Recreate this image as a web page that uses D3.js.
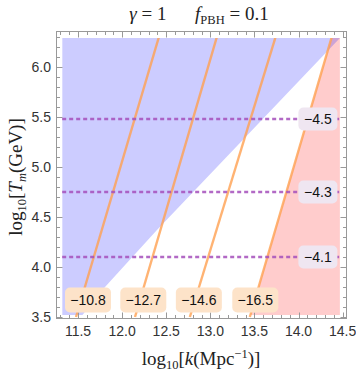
<!DOCTYPE html>
<html><head><meta charset="utf-8">
<script src="https://cdn.jsdelivr.net/npm/d3@7"></script>
<style>body{margin:0;background:#fff}svg{display:block}</style>
</head><body><svg id="c" width="356" height="375"></svg>
<script>
// ---- data ----
const kFrame = [11.25, 14.55];
const TFrame = [3.48, 6.36];
const kExtent = [11.32, 14.47];
const TExtent = [3.52, 6.29];
const kTicks = [11.5, 12.0, 12.5, 13.0, 13.5, 14.0, 14.5];
const TTicks = [3.5, 4.0, 4.5, 5.0, 5.5, 6.0];
const blueEdgeK = [14.47, 13.584, 12.395, 11.806, 11.55];
const blueEdgeT = [6.29, 5.47, 4.37, 3.80, 3.52];
const contourLabels = ["\u221210.8", "\u221212.7", "\u221214.6", "\u221216.5"];
const contourKBottom = [11.477, 12.146, 12.768, 13.448];
const contourKTop = [12.417, 13.074, 13.74, 14.377];
const contourT = [3.5, 6.3];
const dashedT = [5.48, 4.75, 4.10];
const dashedLabels = ["\u22124.5", "\u22124.3", "\u22124.1"];
const bottomLabelK = [11.613, 12.24, 12.87, 13.51];
const bottomLabelT = 3.67;
const rightLabelK = 14.22;

// ---- layout ----
const svg = d3.select("#c");
const x = d3.scaleLinear().domain(kFrame).range([56, 347]);
const y = d3.scaleLinear().domain(TFrame).range([319, 31]);
const sans = "Liberation Sans, Arial, sans-serif";
const serif = "Liberation Serif, Times New Roman, serif";

const defs = svg.append("defs");
defs.append("clipPath").attr("id", "clip").append("rect")
  .attr("x", x(kExtent[0])).attr("y", y(TExtent[1]))
  .attr("width", x(kExtent[1]) - x(kExtent[0])).attr("height", y(TExtent[0]) - y(TExtent[1]));
defs.append("clipPath").attr("id", "clip2").append("rect")
  .attr("x", x(kExtent[0])).attr("y", y(TExtent[1]))
  .attr("width", x(kExtent[1]) - x(kExtent[0])).attr("height", y(3.5) - y(TExtent[1]) + 1);

const line = d3.line().x(d => x(d[0])).y(d => y(d[1]));
const plot = svg.append("g").attr("clip-path", "url(#clip)");

// red region: right of last contour
const lastI = contourKBottom.length - 1;
const edgeAt = T => contourKBottom[lastI] + (contourKTop[lastI] - contourKBottom[lastI]) * (T - contourT[0]) / (contourT[1] - contourT[0]);
const redPoly = [[edgeAt(TExtent[1]), TExtent[1]], [kExtent[1], TExtent[1]], [kExtent[1], TExtent[0]], [edgeAt(TExtent[0]), TExtent[0]]];
plot.append("path").attr("d", line(redPoly) + "Z").attr("fill", "rgb(255,0,0)").attr("fill-opacity", 0.2);

// blue region
const bluePoly = [[kExtent[0], TExtent[1]]].concat(blueEdgeK.map((k, i) => [k, blueEdgeT[i]])).concat([[kExtent[0], TExtent[0]]]);
plot.append("path").attr("d", line(bluePoly) + "Z").attr("fill", "rgb(0,0,255)").attr("fill-opacity", 0.2);

// contour lines
contourKBottom.forEach((kb, i) => {
  svg.append("path").attr("d", line([[kb, contourT[0]], [contourKTop[i], contourT[1]]]))
    .attr("stroke", "rgb(255,160,80)").attr("stroke-opacity", 0.8).attr("stroke-width", 2.4).attr("fill", "none")
    .attr("clip-path", "url(#clip2)");
});

// dashed lines
dashedT.forEach(T => {
  svg.append("line").attr("x1", x(kExtent[0])).attr("x2", x(kExtent[1])).attr("y1", y(T)).attr("y2", y(T))
    .attr("stroke", "#a44fbb").attr("stroke-opacity", 0.85).attr("stroke-width", 2.5).attr("stroke-dasharray", "4,3");
});

// frame & ticks
const frame = svg.append("g").attr("stroke", "#999").attr("fill", "none");
frame.append("rect").attr("x", 56.5).attr("y", 31.5).attr("width", 290).attr("height", 287).attr("stroke-width", 1);
const minorK = d3.range(113, 146).map(v => v / 10).filter(v => v > kFrame[0] && v < kFrame[1]);
const minorT = d3.range(35, 64).map(v => v / 10).filter(v => v > TFrame[0] && v < TFrame[1]);
const isMajor = v => Math.abs(v * 2 - Math.round(v * 2)) < 1e-6;
minorK.forEach(v => {
  const L = isMajor(v) ? 6 : 3.5, px = Math.round(x(v)) + 0.5;
  frame.append("line").attr("x1", px).attr("x2", px).attr("y1", 318.5).attr("y2", 318.5 - L);
  frame.append("line").attr("x1", px).attr("x2", px).attr("y1", 31.5).attr("y2", 31.5 + L);
});
minorT.forEach(v => {
  const L = isMajor(v) ? 6 : 3.5, py = Math.round(y(v)) + 0.5;
  frame.append("line").attr("x1", 56.5).attr("x2", 56.5 + L).attr("y1", py).attr("y2", py);
  frame.append("line").attr("x1", 346.5).attr("x2", 346.5 - L).attr("y1", py).attr("y2", py);
});

// tick labels
svg.append("g").selectAll("text").data(kTicks).join("text")
  .attr("x", d => x(d)).attr("y", 336).attr("text-anchor", "middle")
  .attr("font-family", sans).attr("font-size", 14).attr("fill", "#333").text(d => d.toFixed(1));
svg.append("g").selectAll("text").data(TTicks).join("text")
  .attr("x", 51).attr("y", d => y(d) + 5).attr("text-anchor", "end")
  .attr("font-family", sans).attr("font-size", 14).attr("fill", "#333").text(d => d.toFixed(1));

// labels
function box(cx, cy, w, h, fill, txt) {
  svg.append("rect").attr("x", cx - w / 2).attr("y", cy - h / 2).attr("width", w).attr("height", h)
    .attr("rx", 5).attr("fill", fill);
  svg.append("text").attr("x", cx).attr("y", cy + 5).attr("text-anchor", "middle")
    .attr("font-family", sans).attr("font-size", 14).attr("fill", "#111").text(txt);
}
contourLabels.forEach((t, i) => box(x(bottomLabelK[i]), y(bottomLabelT), 46, 25, "#fde3c9", t));
dashedLabels.forEach((t, i) => box(x(rightLabelK), y(dashedT[i]), 39, 23, "#efe6f1", t));

// title
const title = svg.append("text").attr("x", 199).attr("y", 20).attr("text-anchor", "middle")
  .attr("font-family", serif).attr("font-size", 19).attr("fill", "#222");
title.append("tspan").attr("font-style", "italic").text("γ");
title.append("tspan").text(" = 1\u2003\u2002");
title.append("tspan").attr("font-style", "italic").text("f");
title.append("tspan").attr("font-size", 12.5).attr("dy", 4).text("PBH");
title.append("tspan").attr("dy", -4).text(" = 0.1");

// x axis title
const xt = svg.append("text").attr("x", 201).attr("y", 365).attr("text-anchor", "middle")
  .attr("font-family", serif).attr("font-size", 19).attr("fill", "#222");
xt.append("tspan").text("log");
xt.append("tspan").attr("font-size", 12.5).attr("dy", 4).text("10");
xt.append("tspan").attr("dy", -4).text("[");
xt.append("tspan").attr("font-style", "italic").text("k");
xt.append("tspan").text("(Mpc");
xt.append("tspan").attr("font-size", 12.5).attr("dy", -7).text("\u22121");
xt.append("tspan").attr("dy", 7).text(")]");

// y axis title
const yt = svg.append("text").attr("transform", `translate(22,${y(4.9)}) rotate(-90)`).attr("text-anchor", "middle")
  .attr("font-family", serif).attr("font-size", 19).attr("fill", "#222");
yt.append("tspan").text("log");
yt.append("tspan").attr("font-size", 12.5).attr("dy", 4).text("10");
yt.append("tspan").attr("dy", -4).text("[");
yt.append("tspan").attr("font-style", "italic").text("T");
yt.append("tspan").attr("font-style", "italic").attr("font-size", 12.5).attr("dy", 4).text("m");
yt.append("tspan").attr("dy", -4).text("(GeV)]");
</script></body></html>
